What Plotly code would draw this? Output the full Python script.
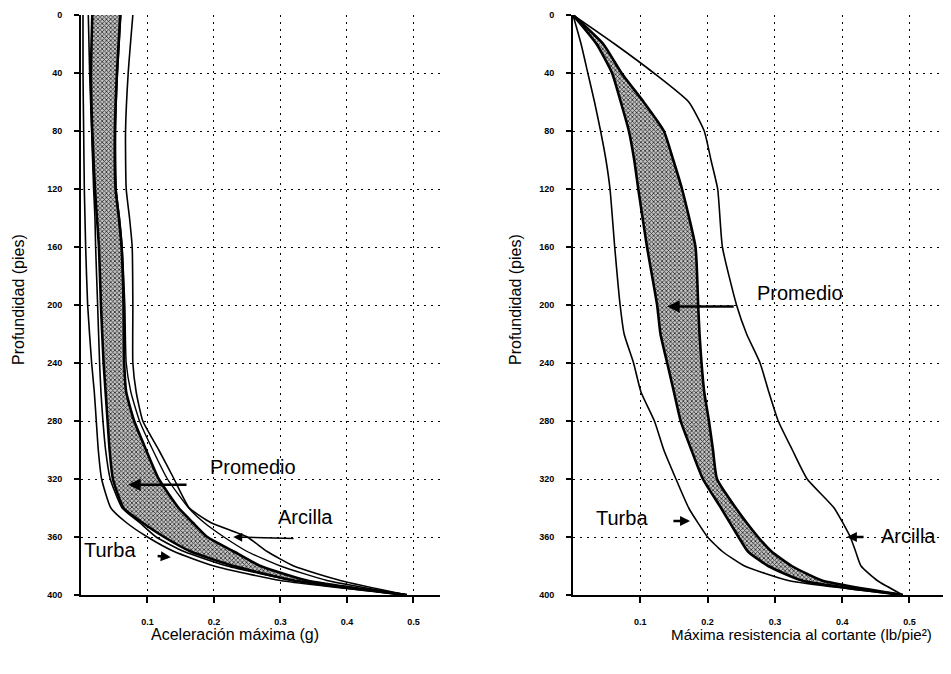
import plotly.graph_objects as go

# ---------------- data: left panel (Aceleración máxima, g) ----------------
depth_a = [0, 40, 80, 120, 140, 160, 200, 240, 260, 280, 300, 320, 340, 350, 360, 370, 380, 390, 400]
acc_turba_outer = [0.003, 0.003, 0.004, 0.005, 0.006, 0.007, 0.010, 0.016, 0.020, 0.023, 0.026, 0.031, 0.045, 0.068, 0.100, 0.140, 0.200, 0.300, 0.490]
acc_turba_inner = [0.011, 0.013, 0.016, 0.019, 0.021, 0.022, 0.025, 0.028, 0.030, 0.033, 0.037, 0.044, 0.062, 0.088, 0.113, 0.155, 0.220, 0.320, 0.490]
acc_prom_low = [0.017, 0.015, 0.017, 0.021, 0.024, 0.027, 0.030, 0.034, 0.037, 0.040, 0.043, 0.048, 0.064, 0.092, 0.125, 0.165, 0.230, 0.320, 0.490]
acc_prom_high = [0.059, 0.054, 0.051, 0.052, 0.057, 0.061, 0.064, 0.065, 0.068, 0.080, 0.098, 0.117, 0.147, 0.168, 0.190, 0.230, 0.270, 0.340, 0.490]
acc_arcilla_inner = [0.060, 0.055, 0.052, 0.053, 0.058, 0.062, 0.066, 0.068, 0.075, 0.088, 0.108, 0.130, 0.162, 0.185, 0.215, 0.250, 0.300, 0.370, 0.490]
acc_arcilla_outer = [0.078, 0.071, 0.067, 0.068, 0.073, 0.077, 0.078, 0.078, 0.083, 0.093, 0.117, 0.140, 0.163, 0.195, 0.250, 0.280, 0.320, 0.390, 0.490]

# ---------------- data: right panel (Máxima resistencia al cortante) ----------------
depth_b = [0, 20, 40, 60, 80, 100, 120, 160, 200, 220, 240, 260, 280, 300, 320, 340, 360, 370, 380, 390, 400]
shear_turba = [0.0, 0.012, 0.022, 0.032, 0.041, 0.049, 0.055, 0.062, 0.070, 0.076, 0.090, 0.101, 0.121, 0.135, 0.153, 0.172, 0.200, 0.222, 0.255, 0.320, 0.490]
shear_prom_low = [0.0, 0.035, 0.058, 0.071, 0.083, 0.091, 0.097, 0.110, 0.125, 0.130, 0.140, 0.150, 0.160, 0.176, 0.193, 0.220, 0.246, 0.260, 0.290, 0.340, 0.490]
shear_prom_high = [0.0, 0.045, 0.072, 0.105, 0.135, 0.149, 0.162, 0.182, 0.186, 0.188, 0.191, 0.195, 0.202, 0.208, 0.214, 0.242, 0.275, 0.295, 0.325, 0.370, 0.490]
shear_arcilla = [0.0, 0.062, 0.120, 0.172, 0.195, 0.205, 0.215, 0.222, 0.243, 0.258, 0.278, 0.291, 0.305, 0.326, 0.348, 0.388, 0.412, 0.420, 0.428, 0.452, 0.490]

depth_ticks = [0, 40, 80, 120, 160, 200, 240, 280, 320, 360, 400]
depth_labels = ["0", "40", "80", "120", "160", "200", "240", "280", "320", "360", "400"]
x_ticks = [0.1, 0.2, 0.3, 0.4, 0.5]
x_labels = ["0.1", "0.2", "0.3", "0.4", "0.5"]

FONT = "Liberation Sans, Arial, sans-serif"
OFF = 8                      # default page margin of the html body
W, H = 951 - OFF, 674 - OFF  # figure size so the page fits the window


def fx(px):  # page pixel x -> figure pixel x
    return px - OFF


top_px, bot_px = 15 - OFF, 595 - OFF

fig = go.Figure()

band_fill = dict(shape="x", size=3, solidity=0.45, fgcolor="#262626", bgcolor="#c4c4c4", fillmode="replace")


def add_band(low, high, depth, xa, ya):
    fig.add_trace(go.Scatter(
        x=low + high[::-1], y=depth + depth[::-1], mode="lines", fill="toself",
        fillpattern=band_fill, line=dict(width=0, shape="spline", smoothing=0.5),
        xaxis=xa, yaxis=ya, hoverinfo="skip", showlegend=False))


def add_line(vals, depth, xa, ya, w):
    fig.add_trace(go.Scatter(
        x=vals, y=depth, mode="lines",
        line=dict(color="black", width=w, shape="spline", smoothing=0.5),
        xaxis=xa, yaxis=ya, hoverinfo="skip", showlegend=False))


# left panel
add_band(acc_prom_low, acc_prom_high, depth_a, "x", "y")
add_line(acc_turba_outer, depth_a, "x", "y", 1.6)
add_line(acc_turba_inner, depth_a, "x", "y", 1.6)
add_line(acc_prom_low, depth_a, "x", "y", 2.6)
add_line(acc_prom_high, depth_a, "x", "y", 2.6)
add_line(acc_arcilla_inner, depth_a, "x", "y", 1.4)
add_line(acc_arcilla_outer, depth_a, "x", "y", 1.6)

# right panel
add_band(shear_prom_low, shear_prom_high, depth_b, "x2", "y2")
add_line(shear_turba, depth_b, "x2", "y2", 1.6)
add_line(shear_prom_low, depth_b, "x2", "y2", 2.6)
add_line(shear_prom_high, depth_b, "x2", "y2", 2.6)
add_line(shear_arcilla, depth_b, "x2", "y2", 1.6)

xaxis_common = dict(
    tickvals=x_ticks, ticktext=["<b>%s</b>" % t for t in x_labels],
    tickfont=dict(family=FONT, size=9, color="black"),
    showgrid=True, gridcolor="black", gridwidth=1, griddash="2px,5px",
    showline=True, linecolor="black", linewidth=2,
    ticks="outside", ticklen=6, tickwidth=2, tickcolor="black",
    ticklabelstandoff=11, zeroline=False, fixedrange=True)
yaxis_common = dict(
    range=[400, 0], tickvals=depth_ticks, ticktext=["<b>%s</b>" % t for t in depth_labels],
    tickfont=dict(family=FONT, size=9, color="black"),
    showgrid=True, gridcolor="black", gridwidth=1, griddash="2px,5px",
    showline=True, linecolor="black", linewidth=2,
    ticks="outside", ticklen=5, tickwidth=2, tickcolor="black",
    ticklabelstandoff=10, zeroline=False, fixedrange=True)

fig.update_layout(
    width=W, height=H,
    margin=dict(l=0, r=0, t=top_px, b=H - bot_px),
    paper_bgcolor="white", plot_bgcolor="white",
    font=dict(family=FONT, color="black"),
    xaxis=dict(domain=[fx(81) / W, fx(440) / W], range=[0, 0.54], anchor="y", **xaxis_common),
    yaxis=dict(domain=[0, 1], anchor="x", **yaxis_common),
    xaxis2=dict(domain=[fx(573) / W, 1.0], range=[0, 0.5617], anchor="y2", **xaxis_common),
    yaxis2=dict(domain=[0, 1], anchor="x2", **yaxis_common),
)


def arrow(xr, yr, hx, hy, tx, ty, w, size=1.0):
    fig.add_annotation(x=hx, y=hy, ax=tx, ay=ty, xref=xr, yref=yr, axref=xr, ayref=yr,
                       text="", showarrow=True, arrowhead=2, arrowsize=size,
                       arrowwidth=w, arrowcolor="black")


def label(xr, yr, x, y, txt):
    fig.add_annotation(x=x, y=y, xref=xr, yref=yr, text=txt, showarrow=False,
                       font=dict(family=FONT, size=20, color="black"),
                       xanchor="center", yanchor="middle")


# left annotations
label("x", "y", 0.259, 312, "Promedio")
arrow("x", "y", 0.071, 324, 0.161, 324, 2.5, 1.0)
label("x", "y", 0.338, 346, "Arcilla")
arrow("x", "y", 0.229, 360, 0.322, 361, 1.5, 1.2)
label("x", "y", 0.044, 369, "Turba")
arrow("x", "y", 0.135, 374, 0.113, 373, 2.5, 0.8)

# right annotations
label("x2", "y2", 0.337, 192, "Promedio")
arrow("x2", "y2", 0.140, 201, 0.241, 201, 2.5, 1.0)
label("x2", "y2", 0.073, 347, "Turba")
arrow("x2", "y2", 0.174, 349, 0.147, 349, 2.5, 0.8)
label("x2", "y2", 0.498, 359, "Arcilla")
arrow("x2", "y2", 0.407, 360, 0.434, 360, 2.5, 0.8)


def py_to_paper(py):  # page pixel y -> paper fraction of plot area
    return (bot_px - (py - OFF)) / (bot_px - top_px)


def title(px, py, txt, angle=0, anchor="center", size=16):
    fig.add_annotation(x=fx(px) / W, y=py_to_paper(py), xref="paper", yref="paper", text=txt,
                       showarrow=False, textangle=angle, yanchor="middle", xanchor=anchor,
                       font=dict(family=FONT, size=size, color="black"))


title(235, 634, "Aceleración máxima (g)")
title(669, 634, "Máxima resistencia al cortante (lb/pie²)", anchor="left", size=15.2)
title(18, 300, "Profundidad (pies)", -90)
title(515, 300, "Profundidad (pies)", -90)

fig.write_html("out.html")
